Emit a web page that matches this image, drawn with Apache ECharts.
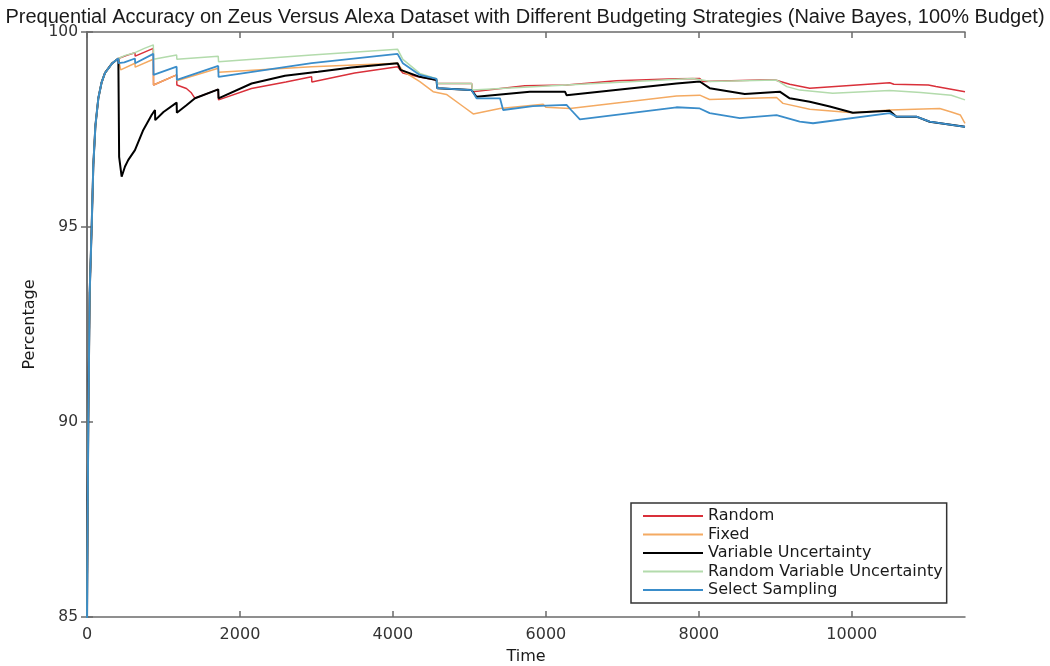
<!DOCTYPE html>
<html>
<head>
<meta charset="utf-8">
<script src="https://cdn.jsdelivr.net/npm/echarts@6/dist/echarts.min.js"></script>
<style>html,body{margin:0;padding:0;background:#fff}#c{width:1050px;height:666px}</style>
</head>
<body>
<div id="c"></div>
<script>
// ---- data ----
const titleText = 'Prequential Accuracy on Zeus Versus Alexa Dataset with Different Budgeting Strategies (Naive Bayes, 100% Budget)';
const seriesNames = ['Random', 'Fixed', 'Variable Uncertainty', 'Random Variable Uncertainty', 'Select Sampling'];
const xTicks = [0, 2000, 4000, 6000, 8000, 10000];
const yTicks = [85, 90, 95, 100];

const randomX = [0,8,17,35,61,83,110,148,190,235,330,410,520,627,630,867,870,1172,1175,1300,1360,1412,1716,1720,2150,2600,2937,2940,3500,4060,4130,4330,4570,4580,4650,5030,5040,5725,6270,6923,7707,8012,8050,8800,9000,9188,9450,10495,10550,11000,11100,11480];
const randomY = [84.8,87.6,90,93.3,95,96.6,97.6,98.3,98.7,98.95,99.2,99.32,99.4,99.47,99.38,99.58,98.64,98.9,98.64,98.55,98.45,98.3,98.53,98.26,98.55,98.72,98.85,98.72,98.95,99.11,98.95,98.85,98.77,98.68,98.68,98.68,98.47,98.62,98.64,98.75,98.8,98.81,98.73,98.77,98.77,98.66,98.56,98.7,98.66,98.64,98.6,98.47];

const fixedX = [0,8,17,35,61,83,110,148,190,235,330,410,440,627,630,867,870,1172,1175,1716,1720,2937,4060,4130,4352,4526,4700,4918,5050,5398,5964,6000,6313,7707,8012,8140,9016,9100,9450,10013,10495,11150,11300,11420,11480];
const fixedY = [84.8,87.6,90,93.3,95,96.6,97.6,98.3,98.7,98.95,99.2,99.32,99.03,99.2,99.1,99.3,98.64,98.9,98.75,99.07,98.97,99.11,99.2,99.0,98.73,98.47,98.4,98.09,97.9,98.04,98.15,98.07,98.04,98.36,98.38,98.27,98.32,98.17,98.02,97.93,98.0,98.04,97.95,97.87,97.66];

const variableX = [0,8,17,35,61,83,110,148,190,235,330,410,420,453,497,540,627,736,845,889,892,1000,1172,1175,1300,1412,1716,1720,2152,2588,3023,3459,4060,4100,4352,4570,4580,5028,5093,5790,6250,6270,7707,8012,8142,8600,9058,9188,9450,9712,10013,10495,10583,10844,11018,11480];
const variableY = [84.8,87.6,90,93.3,95,96.6,97.6,98.3,98.7,98.95,99.2,99.32,96.8,96.29,96.55,96.72,96.97,97.49,97.87,98.0,97.74,97.95,98.19,97.93,98.12,98.3,98.53,98.3,98.68,98.88,98.98,99.09,99.2,99.03,98.85,98.77,98.56,98.51,98.34,98.47,98.47,98.38,98.68,98.73,98.56,98.41,98.47,98.3,98.21,98.09,97.93,97.98,97.83,97.83,97.7,97.57];

const rvuX = [0,8,17,35,61,83,110,148,190,235,330,410,500,627,750,867,870,1172,1175,1716,1720,2937,2940,4060,4130,4352,4570,4580,5030,5040,6270,7920,8100,8150,9011,9150,9319,9750,10495,10900,11300,11480];
const rvuY = [84.8,87.6,90,93.3,95,96.6,97.6,98.3,98.7,98.95,99.2,99.32,99.4,99.47,99.58,99.67,99.3,99.41,99.3,99.38,99.24,99.41,99.43,99.56,99.3,98.94,98.8,98.68,98.68,98.51,98.64,98.81,98.75,98.73,98.77,98.6,98.51,98.43,98.5,98.45,98.38,98.26];

const selectX = [0,8,17,35,61,83,110,148,190,235,330,410,412,488,627,630,867,870,1172,1175,1716,1720,2937,2940,4060,4130,4352,4570,4580,5028,5093,5400,5441,5830,6270,6330,6444,7707,8012,8142,8535,9016,9319,9493,10495,10583,10844,11018,11480];
const selectY = [84.8,87.6,90,93.3,95,96.6,97.6,98.3,98.7,98.95,99.2,99.32,99.2,99.22,99.32,99.2,99.44,98.9,99.11,98.77,99.13,98.85,99.2,99.25,99.44,99.2,98.9,98.8,98.56,98.51,98.3,98.3,98.0,98.1,98.13,98.0,97.76,98.07,98.04,97.92,97.79,97.87,97.7,97.66,97.92,97.83,97.83,97.7,97.57];

// ---- chart ----
const zip = (xs, ys) => xs.map((x, i) => [x, ys[i]]);
const colors = ['#d9303a', '#f4aa62', '#000000', '#b3dbac', '#3a8dca'];
const widths = [1.5, 1.5, 2, 1.5, 1.8];
const allData = [zip(randomX, randomY), zip(fixedX, fixedY), zip(variableX, variableY), zip(rvuX, rvuY), zip(selectX, selectY)];

const axisColor = '#6b6b6b';
const fontFam = 'DejaVu Sans';
const chart = echarts.init(document.getElementById('c'), null, {renderer: 'canvas'});
const baseX = {
  type: 'value', min: 0, max: 11480, interval: 2000,
  axisLine: {show: true, lineStyle: {color: axisColor, width: 1.5}},
  axisTick: {show: true, inside: true, length: 6, lineStyle: {color: axisColor, width: 1.5}},
  splitLine: {show: false}
};
const baseY = {
  type: 'value', min: 85, max: 100, interval: 5,
  axisLine: {show: true, lineStyle: {color: axisColor, width: 1.5}},
  axisTick: {show: true, inside: true, length: 6, lineStyle: {color: axisColor, width: 1.5}},
  splitLine: {show: false}
};
chart.setOption({
  animation: false,
  backgroundColor: '#fff',
  title: {
    text: titleText, left: 'center', top: 2,
    textStyle: {fontFamily: 'Liberation Sans', fontWeight: 'normal', fontSize: 20, color: '#1a1a1a'}
  },
  grid: {left: 87, right: 85, top: 32, bottom: 49, containLabel: false, outerBoundsMode: 'none'},
  legend: {
    orient: 'vertical', left: 631, top: 503,
    data: seriesNames,
    backgroundColor: '#fff',
    borderColor: '#333', borderWidth: 1.5,
    padding: [5, 4, 5, 11],
    itemWidth: 60, itemHeight: 14, itemGap: 2.5,
    itemStyle: {opacity: 0},
    textStyle: {fontFamily: fontFam, fontSize: 16, color: '#1a1a1a'}
  },
  xAxis: [
    Object.assign({}, baseX, {
      position: 'bottom',
      name: 'Time', nameLocation: 'middle', nameGap: 32,
      nameTextStyle: {fontFamily: fontFam, fontSize: 16, color: '#1a1a1a'},
      axisLabel: {fontFamily: fontFam, fontSize: 16, color: '#333', margin: 10, showMaxLabel: false,
        formatter: v => xTicks.includes(v) ? String(v) : ''}
    }),
    Object.assign({}, baseX, {position: 'top', axisLabel: {show: false}})
  ],
  yAxis: [
    Object.assign({}, baseY, {
      position: 'left',
      name: 'Percentage', nameLocation: 'middle', nameGap: 46, nameRotate: 90,
      nameTextStyle: {fontFamily: fontFam, fontSize: 16, color: '#1a1a1a'},
      axisLabel: {fontFamily: fontFam, fontSize: 15.5, color: '#333', margin: 9, verticalAlign: 'middle',
        formatter: v => yTicks.includes(v) ? String(v) : ''}
    }),
    Object.assign({}, baseY, {position: 'right', axisLabel: {show: false}})
  ],
  series: seriesNames.map((n, i) => ({
    name: n, type: 'line', xAxisIndex: 0, yAxisIndex: 0,
    data: allData[i], symbol: 'none', showSymbol: false,
    lineStyle: {color: colors[i], width: widths[i]},
    itemStyle: {color: colors[i]},
    emphasis: {disabled: true}
  }))
});
</script>
</body>
</html>
